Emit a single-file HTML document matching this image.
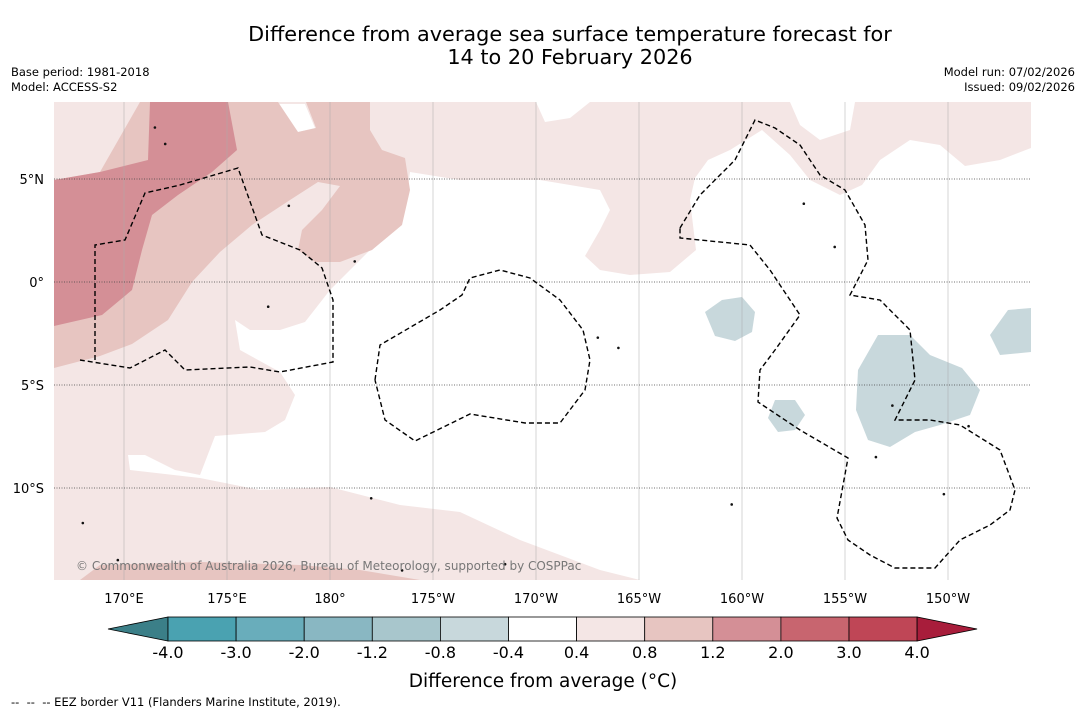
<!DOCTYPE html>
<html><head><meta charset="utf-8">
<style>
body{margin:0;background:#fff;width:1085px;height:713px;overflow:hidden;font-family:"Liberation Sans","DejaVu Sans",sans-serif;}
svg text{font-family:"DejaVu Sans","Liberation Sans",sans-serif;}
</style></head>
<body>
<svg id="chart" width="1085" height="713" viewBox="0 0 1085 713">
<text x="570" y="41" font-size="20.8" text-anchor="middle" fill="#000">Difference from average sea surface temperature forecast for</text>
<text x="570" y="64" font-size="20.8" text-anchor="middle" fill="#000">14 to 20 February 2026</text>
<text x="11" y="76" font-size="11.5">Base period: 1981-2018</text>
<text x="11" y="91" font-size="11.5">Model: ACCESS-S2</text>
<text x="1075" y="76" font-size="11.5" text-anchor="end">Model run: 07/02/2026</text>
<text x="1075" y="91" font-size="11.5" text-anchor="end">Issued: 09/02/2026</text>
<defs><clipPath id="mapclip"><rect x="54" y="102" width="977" height="478"/></clipPath></defs>
<g id="map" clip-path="url(#mapclip)">
<rect x="54" y="102" width="977" height="478" fill="#fff"/>
</g>
<g id="axes"></g>
<text x="76" y="570" font-size="12" fill="#777">© Commonwealth of Australia 2026, Bureau of Meteorology, supported by COSPPac</text>
<g id="cbar"></g>
<text x="543" y="687" font-size="18.5" text-anchor="middle">Difference from average (°C)</text>
<text x="11" y="706" font-size="11.5">-- &#160;-- &#160;-- EEZ border V11 (Flanders Marine Institute, 2019).</text>
</svg>
<script>
const NS="http://www.w3.org/2000/svg";
// colorbar data
const cbBounds=[-4.0,-3.0,-2.0,-1.2,-0.8,-0.4,0.4,0.8,1.2,2.0,3.0,4.0];
const cbColors=["#4aa2b1","#69adbb","#89b7c2","#a8c6cc","#c8d8dc","#ffffff","#f4e6e5","#e7c5c1","#d48f96","#c8656f","#bf4656"];
const cbLow="#3b7f88", cbHigh="#a81d3b";
// axes data
const lonTicks=[170,175,180,185,190,195,200,205,210];
const lonLabels=["170°E","175°E","180°","175°W","170°W","165°W","160°W","155°W","150°W"];
const latTicks=[5,0,-5,-10];
const latLabels=["5°N","0°","5°S","10°S"];
// map projection
const X=lon=>124+(lon-170)*20.6;
const Y=lat=>282-lat*20.6;
const px2=(x,y)=>[170+(x-124)/20.6,(282-y)/20.6];
function mk(tag,attrs,parent){const e=document.createElementNS(NS,tag);for(const k in attrs)e.setAttribute(k,attrs[k]);parent.appendChild(e);return e;}
function poly(pts){return pts.map(p=>px2(p[0],p[1]));}
const regions=[
 {c:"#f4e6e5",n:"anomaly-0.4-0.8-region",p:poly([[54,102],[536,102],[545,122],[570,118],[590,102],[790,102],[800,125],[820,140],[850,130],[855,102],[1031,102],[1031,148],[1000,160],[965,166],[940,145],[910,140],[880,160],[862,185],[840,195],[810,180],[790,155],[762,130],[730,150],[708,160],[695,178],[690,200],[696,250],[670,272],[630,275],[600,270],[585,256],[600,230],[610,210],[600,190],[540,180],[460,180],[410,172],[405,210],[380,240],[350,270],[330,290],[305,322],[280,330],[250,330],[235,320],[240,350],[280,372],[295,395],[285,420],[265,432],[215,436],[200,475],[175,470],[145,455],[128,455],[130,470],[200,478],[260,490],[330,487],[400,505],[460,512],[520,540],[600,570],[640,580],[54,580]])},
 {c:"#fff",n:"white-notch",p:poly([[277,104],[305,104],[315,128],[298,132]])},
 {c:"#e7c5c1",n:"anomaly-0.8-1.2-region",p:poly([[140,102],[278,102],[298,132],[316,128],[306,102],[370,102],[370,130],[382,150],[405,158],[410,190],[402,225],[372,250],[340,262],[315,262],[298,250],[302,230],[322,210],[340,186],[318,182],[290,200],[252,225],[220,252],[192,282],[168,320],[132,344],[100,356],[54,368],[54,180],[100,172]])},
 {c:"#d48f96",n:"anomaly-1.2-2.0-region",p:poly([[54,180],[100,172],[148,160],[150,102],[228,102],[237,150],[212,172],[178,195],[152,215],[142,250],[132,290],[102,315],[54,326]])},
 {c:"#e7c5c1",n:"anomaly-0.8-1.2-south-strip",p:poly([[80,580],[100,565],[200,562],[300,565],[360,570],[420,580]])},
 {c:"#c8d8dc",n:"cool-anomaly-blob-1",p:poly([[705,312],[722,300],[742,297],[755,312],[752,332],[735,341],[715,336]])},
 {c:"#c8d8dc",n:"cool-anomaly-blob-2",p:poly([[878,335],[910,335],[930,355],[962,368],[980,390],[970,415],[940,425],[915,432],[890,447],[868,440],[856,410],[858,370]])},
 {c:"#c8d8dc",n:"cool-anomaly-blob-3",p:poly([[775,400],[795,400],[805,415],[795,430],[778,432],[768,418]])},
 {c:"#c8d8dc",n:"cool-anomaly-blob-4",p:poly([[1008,310],[1031,308],[1031,352],[1000,355],[990,335]])}
];
const eez=[
 poly([[95,360],[95,245],[125,240],[145,193],[180,185],[238,168],[262,235],[300,250],[322,268],[333,300],[333,362],[280,372],[250,367],[185,370],[165,350],[130,368],[80,360]]),
 poly([[375,380],[380,345],[440,310],[462,295],[470,278],[500,270],[530,278],[560,300],[583,330],[590,360],[585,390],[560,423],[525,423],[470,414],[415,441],[385,420],[375,380]]),
 poly([[680,228],[700,195],[735,160],[755,120],[775,128],[800,145],[820,175],[845,190],[865,225],[868,260],[850,295],[880,300],[910,330],[915,380],[895,420],[930,420],[960,425],[1000,450],[1015,490],[1010,510],[990,525],[960,540],[935,568],[895,568],[870,555],[848,540],[837,518],[848,458],[800,430],[758,402],[760,370],[775,350],[800,315],[770,270],[750,245],[700,240],[680,238],[680,228]])
];
const islands=[[171.5,7.5],[172,6.7],[178,3.7],[181.2,1.0],[177,-1.2],[193,-2.7],[194,-3.2],[204.5,1.7],[203,3.8],[206.5,-8.5],[207.3,-6],[211,-7],[169.7,-13.5],[183.5,-14.0],[188.5,-13.7],[182,-10.5],[168,-11.7],[209.8,-10.3],[199.5,-10.8]];
const map=document.getElementById('map');
regions.forEach(r=>{const e=mk('path',{d:'M'+r.p.map(q=>X(q[0]).toFixed(1)+','+Y(q[1]).toFixed(1)).join('L')+'Z',fill:r.c},map);

});
islands.forEach(i=>{const e=mk('circle',{cx:X(i[0]),cy:Y(i[1]),r:1.3,fill:'#111'},map);

});
const ax=document.getElementById('axes');
lonTicks.forEach((l,i)=>{const g=mk('line',{x1:X(l),x2:X(l),y1:102,y2:580,stroke:'#aaa','stroke-width':0.5},map);


const t=mk('text',{x:X(l),y:603,'font-size':13,'text-anchor':'middle'},ax);t.textContent=lonLabels[i];

});
latTicks.forEach((l,i)=>{const g=mk('line',{x1:54,x2:1031,y1:Y(l),y2:Y(l),stroke:'#444','stroke-width':0.7,'stroke-dasharray':'1,1.5'},map);


const t=mk('text',{x:44,y:Y(l)+5,'font-size':13,'text-anchor':'end'},ax);t.textContent=latLabels[i];

});
eez.forEach(p=>{const e=mk('polyline',{points:p.map(q=>X(q[0]).toFixed(1)+','+Y(q[1]).toFixed(1)).join(' '),fill:'none',stroke:'#000','stroke-width':1.4,'stroke-dasharray':'5,3'},map);

});
// colorbar
const cb=document.getElementById('cbar');
const cbX0=168,cbW=68.1,cbY=617,cbH=24;
const CX=i=>cbX0+i*cbW;
const lo=mk('polygon',{points:`${CX(0)},${cbY} ${CX(0)},${cbY+cbH} ${CX(0)-60},${cbY+cbH/2}`,fill:cbLow,stroke:'#000','stroke-width':0.8},cb);


cbColors.forEach((c,i)=>{const r=mk('rect',{x:CX(i),y:cbY,width:cbW,height:cbH,fill:c,stroke:'#000','stroke-width':0.8},cb);

});
const n=cbColors.length;
const hi=mk('polygon',{points:`${CX(n)},${cbY} ${CX(n)},${cbY+cbH} ${CX(n)+60},${cbY+cbH/2}`,fill:cbHigh,stroke:'#000','stroke-width':0.8},cb);


cbBounds.forEach((b,i)=>{const t=mk('text',{x:CX(i),y:658,'font-size':16,'text-anchor':'middle'},cb);t.textContent=b.toFixed(1);

});
</script>
</body></html>
